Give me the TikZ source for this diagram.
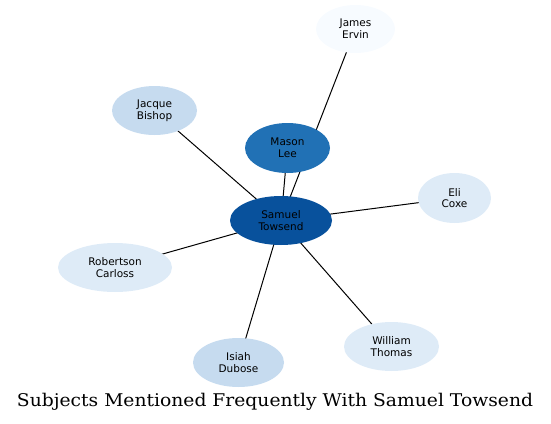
\documentclass[tikz,border=0pt]{standalone}
\usepackage{fontspec}
\newfontfamily\nodefont{DejaVu Sans}
\newfontfamily\titlefont{DejaVu Serif}
\usetikzlibrary{shapes.geometric}
\pgfdeclarelayer{background}
\pgfsetlayers{background,main}
\definecolor{b1}{HTML}{F7FBFF}
\definecolor{b2}{HTML}{DEEBF7}
\definecolor{b3}{HTML}{C6DBEF}
\definecolor{b6}{HTML}{2171B5}
\definecolor{b7}{HTML}{08519C}
\tikzset{
  person/.style={ellipse, inner sep=0pt, align=center, text=black,
    font=\nodefont\fontsize{10.5}{11.7}\selectfont},
  link/.style={draw=black, line width=1pt}
}
\begin{document}
\begin{tikzpicture}[x=1pt,y=-1pt]
\useasboundingbox (0,0) rectangle (551,423);
\node[person, fill=b7, minimum width=102, minimum height=49] (sam) at (281,220.5) {Samuel\\Towsend};
\node[person, fill=b6, minimum width=85, minimum height=50] (mason) at (287.5,148) {Mason\\Lee};
\node[person, fill=b1, minimum width=79, minimum height=48] (james) at (355.5,29) {James\\Ervin};
\node[person, fill=b3, minimum width=85, minimum height=49] (jacque) at (154.5,110.5) {Jacque\\Bishop};
\node[person, fill=b2, minimum width=73, minimum height=50] (eli) at (454.5,198) {Eli\\Coxe};
\node[person, fill=b2, minimum width=114, minimum height=49] (rob) at (115,267.5) {Robertson\\Carloss};
\node[person, fill=b3, minimum width=91, minimum height=49] (isiah) at (238.5,362.5) {Isiah\\Dubose};
\node[person, fill=b2, minimum width=95, minimum height=49] (will) at (391.5,346.5) {William\\Thomas};
\begin{pgfonlayer}{background}
\foreach \n in {mason,james,jacque,eli,rob,isiah,will}
  \draw[link] (sam.center) -- (\n.center);
\end{pgfonlayer}
\node[anchor=base, inner sep=0pt, font=\titlefont\fontsize{17.5}{20}\selectfont] (title) at (275,406) {\scalebox{1.07}[1]{Subjects Mentioned Frequently With Samuel Towsend}};
\end{tikzpicture}
\end{document}
